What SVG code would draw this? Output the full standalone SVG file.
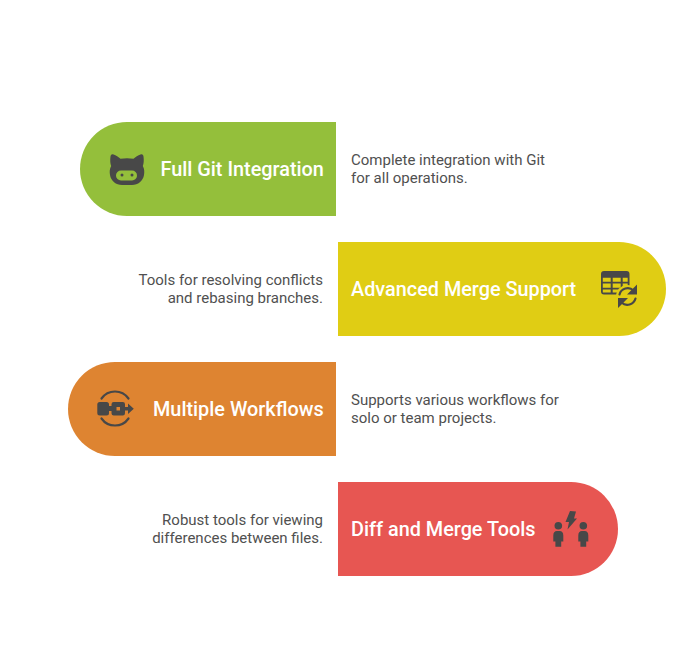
<svg xmlns="http://www.w3.org/2000/svg" width="674" height="650" viewBox="0 0 674 650">
<style>
.t{font-family:Roboto,"Liberation Sans",sans-serif;font-size:19.85px;font-weight:500;fill:#fff}
.d{font-family:Roboto,"Liberation Sans",sans-serif;font-size:15px;fill:#505050}
.e{text-anchor:end}
.i{fill:#484848}
.s{fill:none;stroke:#484848;stroke-width:2.200;stroke-linecap:round}
</style>
<rect width="674" height="650" fill="#fff"/>
<g id="node-git">
<path d="M336 122H127a47 47 0 0 0 0 94H336Z" fill="#94bf3b"/>
<path class="i" d="M110.500 156.500C110.800 154.500 112 154 113.500 154.500C116 155.500 118.500 157 120.500 158.800Q127 157.500 133.500 158.800C135.500 157 138 155.500 140.500 154.500C142 154 143.200 154.500 143.500 156.500C144 160 143.800 163.500 142.800 166C144.500 169 144.500 172 144 175C143 181 138 185 132 185H122C116 185 111 181 110 175C109.500 172 109.500 169 111.200 166C110.200 163.500 110 160 110.500 156.500Z"/>
<rect x="116" y="170.500" width="21" height="10" rx="5" fill="#94bf3b"/>
<circle cx="122" cy="175" r="1.500" class="i"/><circle cx="132" cy="175" r="1.500" class="i"/>
<text class="t" x="160.500" y="176">Full Git Integration</text>
<text class="d" x="351" y="165">Complete integration with Git</text>
<text class="d" x="351" y="183">for all operations.</text>
</g>
<g id="node-merge">
<path d="M338 242H619a47 47 0 0 1 0 94H338Z" fill="#e0cd14"/>
<path class="i" fill-rule="evenodd" d="M604 271H626.500Q629.500 271 629.500 274V291.500Q629.500 294.500 626.500 294.500H604Q601 294.500 601 291.500V274Q601 271 604 271ZM602.800 277.700V281.700H610.700V277.700ZM612.700 277.700V281.700H620.700V277.700ZM622.700 277.700V281.700H627.700V277.700ZM602.800 283.500V287.700H610.700V283.500ZM612.700 283.500V287.700H620.700V283.500ZM622.700 283.500V287.700H627.700V283.500ZM602.800 289.500V292.500H610.700V289.500ZM612.700 289.500V292.500H620.700V289.500Z"/>
<circle cx="627.500" cy="296.500" r="11.500" fill="#e0cd14"/>
<path class="s" d="M619.500 294.500A8.500 8.500 0 0 1 633.500 290.500M635.500 298.500A8.500 8.500 0 0 1 621.500 302.500" stroke-width="3.600" stroke-linecap="butt"/>
<path class="i" d="M637 284.500V294.500H627ZM618 308V298H628Z"/>
<text class="t" x="351" y="296">Advanced Merge Support</text>
<text class="d e" x="323" y="285">Tools for resolving conflicts</text>
<text class="d e" x="323" y="303">and rebasing branches.</text>
</g>
<g id="node-workflows">
<path d="M336 362H115a47 47 0 0 0 0 94H336Z" fill="#de8431"/>
<path class="s" d="M101.500 398.500A16.500 16.500 0 0 1 128.500 398.500M101.500 418.500A16.500 16.500 0 0 0 128.500 418.500" stroke-width="2.500"/>
<rect class="i" x="97.300" y="402" width="11.700" height="13.500" rx="2.500"/>
<rect class="i" x="107" y="406" width="6" height="5"/>
<path class="i" fill-rule="evenodd" d="M113.700 402H122.800Q125 402 125 404.200V413.300Q125 415.500 122.800 415.500H113.700Q111.500 415.500 111.500 413.300V404.200Q111.500 402 113.700 402ZM116.500 407V410.500H120V407Z"/>
<path class="i" d="M124 407H128V403.500L133.800 408.700L128 414V410.500H124Z"/>
<text class="t" x="153" y="416">Multiple Workflows</text>
<text class="d" x="351" y="405">Supports various workflows for</text>
<text class="d" x="351" y="423">solo or team projects.</text>
</g>
<g id="node-diff">
<path d="M338 482H571a47 47 0 0 1 0 94H338Z" fill="#e75652"/>
<path class="i" d="M570 511L576 511.500L574 518.500H577L567.500 529.500L569 522H565.500Z"/>
<circle class="i" cx="558.300" cy="525.700" r="3.800"/>
<path class="i" d="M553.300 535.500Q553.300 531 557 531H559.600Q563.300 531 563.300 535.500V541.500H561.200V546.800H555.400V541.500H553.300Z"/>
<circle class="i" cx="583.300" cy="525.700" r="3.800"/>
<path class="i" d="M578.300 535.500Q578.300 531 582 531H584.600Q588.300 531 588.300 535.500V541.500H586.200V546.800H580.400V541.500H578.300Z"/>
<text class="t" x="351" y="536">Diff and Merge Tools</text>
<text class="d e" x="323" y="525">Robust tools for viewing</text>
<text class="d e" x="323" y="543">differences between files.</text>
</g>
<g id="connectors"></g>
</svg>
